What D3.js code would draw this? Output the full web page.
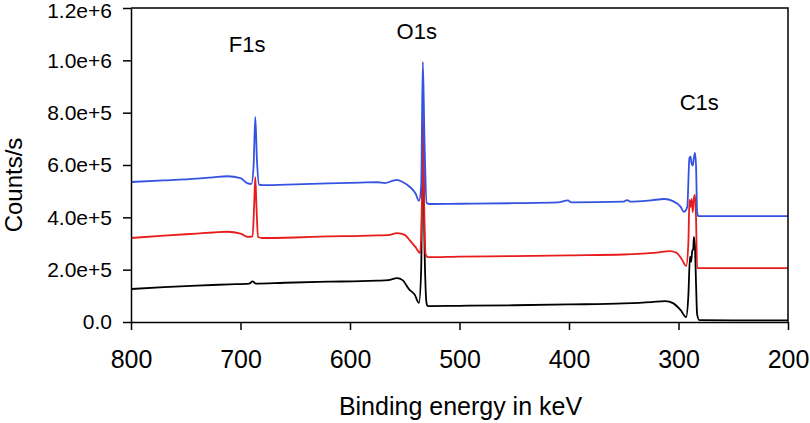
<!DOCTYPE html>
<html>
<head>
<meta charset="utf-8">
<script src="https://cdn.jsdelivr.net/npm/d3@7"></script>
<style>
  html, body { margin: 0; padding: 0; background: #fff; }
  svg { display: block; font-family: "Liberation Sans", Arial, Helvetica, sans-serif; }
</style>
</head>
<body>
<svg id="chart" width="810" height="423"></svg>
<script>
// Tick values / labels
const xTicks = [800, 700, 600, 500, 400, 300, 200];
const yTicks = [0, 2e5, 4e5, 6e5, 8e5, 1e6, 1.2e6];
const yTickLabels = ["0.0", "2.0e+5", "4.0e+5", "6.0e+5", "8.0e+5", "1.0e+6", "1.2e+6"];
const xTitle = "Binding energy in keV";
const yTitle = "Counts/s";

// Peak annotations: [label, energy, counts]
const peakLabels = [["F1s", 694, 1.03e6], ["O1s", 539, 1.082e6], ["C1s", 281, 8.1e5]];

// Spectra: [binding energy (keV), counts/s in thousands]
const blueSeries = [
  [800, 535], [770, 541], [740, 548], [725, 553], [712, 557], [700, 550], [694, 531], [690, 528],
  [688, 600], [686.5, 784], [685, 620], [683, 525], [680, 523], [650, 526], [620, 530], [590, 533],
  [575, 534], [568, 531], [562, 538], [557, 543], [552, 535], [545, 515], [540, 490], [537, 463],
  [535, 520], [533.5, 994], [532, 700], [530, 455], [528, 451], [500, 452], [450, 454], [410, 457],
  [401, 465], [398, 457], [350, 460], [347, 466], [344, 460], [325, 465], [313, 470], [305, 462],
  [298, 440], [295, 421], [292, 440], [290, 627], [289, 632], [288, 605], [287, 598], [286, 625],
  [285, 646], [284, 600], [283, 420], [282, 405], [250, 405], [200, 405]
];
const redSeries = [
  [800, 321], [770, 330], [740, 338], [725, 342], [712, 345], [700, 338], [693, 325], [689, 327],
  [687.5, 450], [686.5, 554], [685.5, 450], [684, 325], [680, 321], [650, 323], [620, 327], [590, 329],
  [575, 331], [565, 332], [557, 340], [550, 333], [545, 310], [540, 285], [536, 264], [534.5, 400],
  [533.5, 811], [532.5, 500], [531, 260], [529, 248], [500, 250], [450, 252], [400, 255], [350, 258],
  [320, 265], [308, 271], [302, 265], [297, 240], [293, 214], [291, 300], [290, 467], [289, 440],
  [288, 470], [287, 420], [286, 470], [285, 486], [284, 400], [283, 206], [250, 206], [200, 206]
];
const blackSeries = [
  [800, 126], [770, 133], [740, 139], [710, 144], [692, 147], [689, 155], [686, 147], [660, 150],
  [620, 154], [590, 156], [575, 158], [565, 160], [557, 168], [552, 160], [546, 125], [541, 105],
  [537, 73], [535, 200], [533.5, 760], [532, 300], [530, 70], [529, 61], [500, 62], [450, 64],
  [400, 67], [350, 71], [325, 76], [312, 80], [305, 72], [298, 45], [293, 19], [291, 100],
  [289.5, 250], [288.5, 230], [287.5, 270], [286.5, 280], [286, 325], [285, 290], [284, 150],
  [283, 30], [281, 7], [250, 6], [200, 6]
];

const series = [
  { data: blackSeries, color: "#000000" },
  { data: redSeries, color: "#e81c1c" },
  { data: blueSeries, color: "#3553e2" }
];

const svg = d3.select("#chart");
const mLeft = 131, mRight = 788, mTop = 8, mBottom = 322;

const x = d3.scaleLinear().domain([800, 200]).range([mLeft, mRight]);
const y = d3.scaleLinear().domain([0, 1.2e6]).range([mBottom, mTop]);

// Lines
const line = d3.line()
  .x(d => x(d[0]))
  .y(d => y(d[1] * 1000))
  .curve(d3.curveMonotoneX);

series.forEach(s => {
  svg.append("path")
    .datum(s.data)
    .attr("fill", "none")
    .attr("stroke", s.color)
    .attr("stroke-width", 1.8)
    .attr("stroke-linejoin", "round")
    .attr("d", line);
});

// Frame (top and right)
svg.append("path")
  .attr("d", `M${mLeft},${mTop}H${mRight}V${mBottom}`)
  .attr("fill", "none").attr("stroke", "#000").attr("stroke-width", 1.5);

// X axis
const xAxis = svg.append("g")
  .attr("transform", `translate(0,${mBottom})`)
  .call(d3.axisBottom(x).tickValues(xTicks).tickSize(8).tickSizeOuter(0).tickPadding(20).tickFormat(d3.format("d")));
xAxis.select(".domain").attr("stroke-width", 1.5);
xAxis.selectAll(".tick line").attr("stroke-width", 1.5);
xAxis.selectAll("text").attr("font-size", 25).attr("fill", "#000").attr("font-family", "Liberation Sans, Arial, sans-serif");

// Y axis
const yAxis = svg.append("g")
  .attr("transform", `translate(${mLeft},0)`)
  .call(d3.axisLeft(y).tickValues(yTicks).tickSize(8).tickSizeOuter(0).tickPadding(11)
    .tickFormat((d, i) => yTickLabels[i]));
yAxis.select(".domain").attr("stroke-width", 1.5);
yAxis.selectAll(".tick line").attr("stroke-width", 1.5);
yAxis.selectAll("text").attr("font-size", 21).attr("fill", "#000").attr("font-family", "Liberation Sans, Arial, sans-serif");
// keep the topmost label inside the picture
yAxis.selectAll(".tick text").filter(d => d === 1.2e6).attr("dy", "0.45em");

// Titles
svg.append("text")
  .attr("x", (mLeft + mRight) / 2 + 1)
  .attr("y", 415)
  .attr("text-anchor", "middle")
  .attr("font-size", 25)
  .text(xTitle);

svg.append("text")
  .attr("transform", `translate(22,${185}) rotate(-90)`)
  .attr("text-anchor", "middle")
  .attr("font-size", 24)
  .text(yTitle);

// Peak labels
peakLabels.forEach(p => {
  svg.append("text")
    .attr("x", x(p[1]))
    .attr("y", y(p[2]))
    .attr("text-anchor", "middle")
    .attr("font-size", 22)
    .text(p[0]);
});
</script>
</body>
</html>
